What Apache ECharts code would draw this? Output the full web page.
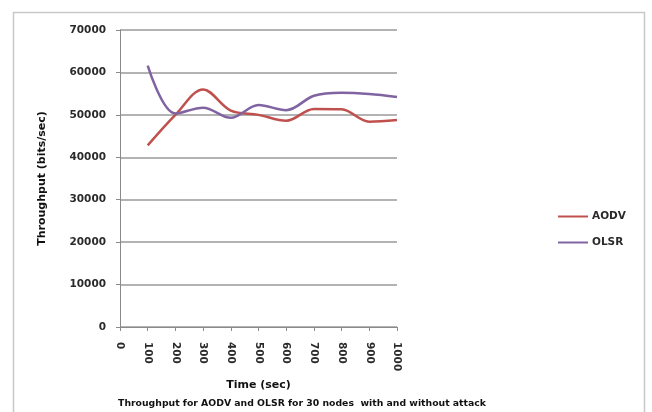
<!DOCTYPE html>
<html>
<head>
<meta charset="utf-8">
<script src="https://cdn.jsdelivr.net/npm/echarts@6/dist/echarts.min.js"></script>
<style>
  html, body { margin: 0; padding: 0; background: #fff; }
  #chart { width: 652px; height: 412px; }
</style>
</head>
<body>
<div id="chart"></div>
<script>
// Simulation time (sec) at which throughput was sampled
const times = [100, 200, 300, 400, 500, 600, 700, 800, 900, 1000];
// Throughput (bits/sec) per routing protocol
const aodv = [42800, 50000, 56000, 51000, 50000, 48600, 51400, 51300, 48400, 48800];
const olsr = [61600, 50300, 51700, 49300, 52300, 51100, 54500, 55200, 54900, 54200];
// Axis tick values
const xTicks = [0, 100, 200, 300, 400, 500, 600, 700, 800, 900, 1000];
const yTicks = [0, 10000, 20000, 30000, 40000, 50000, 60000, 70000];

const FONT = 'DejaVu Sans';
const TXT = '#2a2a2a';
const chart = echarts.init(document.getElementById('chart'));

const pairs = arr => times.map((t, i) => [t, arr[i]]);

chart.setOption({
  animation: false,
  textStyle: { fontFamily: FONT },
  grid: { left: 120, right: 255, top: 30, bottom: 85, containLabel: false },
  graphic: [
    {
      type: 'rect',
      shape: { x: 13.5, y: 12.5, width: 631, height: 420 },
      style: { fill: 'none', stroke: '#c8c8c8', lineWidth: 1.5 },
      silent: true
    },
    {
      type: 'text', x: 302, y: 404,
      style: {
        text: 'Throughput for AODV and OLSR for 30 nodes  with and without attack',
        font: 'bold 9.3px "' + FONT + '"', fill: '#111',
        align: 'center', verticalAlign: 'middle'
      }
    }
  ],
  legend: {
    orient: 'vertical',
    left: 553, top: 206,
    itemGap: 15,
    itemWidth: 30, itemHeight: 2,
    icon: 'rect',
    textStyle: { fontFamily: FONT, fontWeight: 'bold', fontSize: 10.5, color: TXT, padding: [0, 0, 0, -1] },
    data: ['AODV', 'OLSR']
  },
  xAxis: {
    type: 'value', min: 0, max: 1000, interval: 100,
    name: 'Time (sec)', nameLocation: 'middle', nameGap: 53,
    nameTextStyle: { fontFamily: FONT, fontWeight: 'bold', fontSize: 11, color: '#111' },
    axisLine: { lineStyle: { color: '#8a8a8a', width: 1 } },
    axisTick: { show: true, length: 4, lineStyle: { color: '#8a8a8a' } },
    axisLabel: {
      rotate: -90, fontSize: 10.5, fontWeight: 'bold', color: TXT, margin: 15,
      customValues: xTicks,
      formatter: v => String(v)
    },
    splitLine: { show: false }
  },
  yAxis: {
    type: 'value', min: 0, max: 70000, interval: 10000,
    name: 'Throughput (bits/sec)', nameLocation: 'middle', nameGap: 72, nameRotate: 90,
    nameTextStyle: { fontFamily: FONT, fontWeight: 'bold', fontSize: 11, color: '#111' },
    axisLine: { show: true, lineStyle: { color: '#8a8a8a', width: 1 } },
    axisTick: { show: true, length: 4, lineStyle: { color: '#8a8a8a' } },
    axisLabel: {
      fontSize: 10.5, fontWeight: 'bold', color: TXT, margin: 14,
      customValues: yTicks,
      formatter: v => String(v)
    },
    splitLine: { show: true, lineStyle: { color: '#9a9a9a', width: 1.5 } }
  },
  series: [
    {
      name: 'AODV', type: 'line', data: pairs(aodv),
      smooth: 0.35, showSymbol: false, symbol: 'none',
      lineStyle: { color: '#c0504d', width: 2.5 },
      itemStyle: { color: '#c0504d' }
    },
    {
      name: 'OLSR', type: 'line', data: pairs(olsr),
      smooth: 0.35, showSymbol: false, symbol: 'none',
      lineStyle: { color: '#8064a2', width: 2.5 },
      itemStyle: { color: '#8064a2' }
    }
  ]
});
</script>
</body>
</html>
